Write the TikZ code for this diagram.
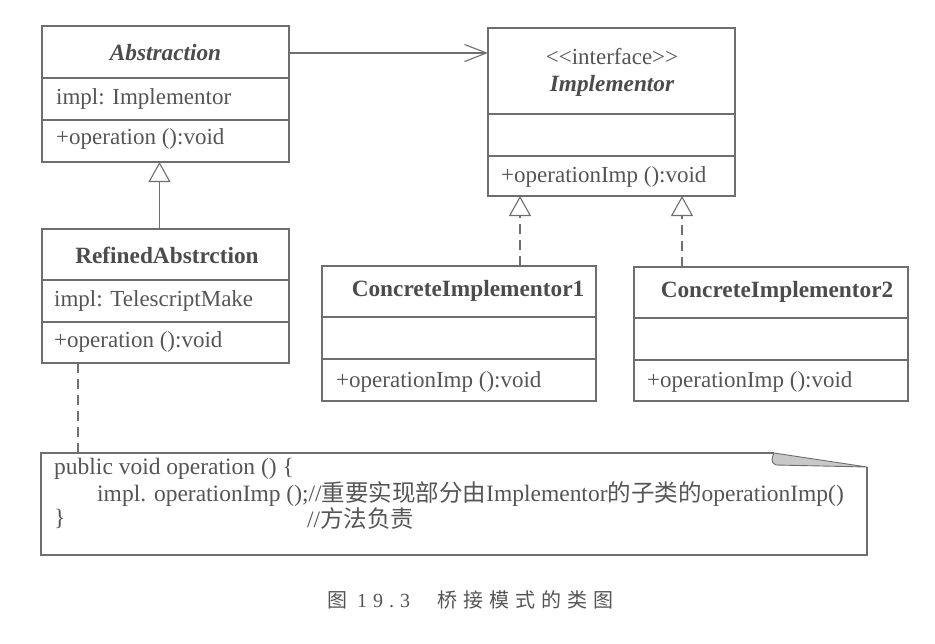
\documentclass[tikz,border=0pt]{standalone}
\usepackage{fontspec}
\setmainfont{Liberation Serif}
\newfontfamily\cjk{Noto Sans CJK SC}
\newfontfamily\capcjk[LetterSpace=30]{Noto Sans CJK SC}
\newfontfamily\capdig[LetterSpace=30]{Liberation Serif}
\usetikzlibrary{arrows.meta}
\definecolor{lc}{HTML}{6E6E6E}
\definecolor{tc}{HTML}{555555}
\definecolor{fc}{HTML}{C8C8C8}
\begin{document}
\begin{tikzpicture}[x=1pt,y=-1pt,
  ln/.style={draw=lc, line width=1.1pt},
  cls/.style={ln, rectangle, inner sep=0pt, outer sep=0pt, anchor=north west},
  txt/.style={text=tc, inner sep=0pt, font=\fontsize{23}{27}\selectfont},
  ntxt/.style={text=tc, inner sep=0pt, font=\fontsize{23.5}{27}\selectfont},
  ttl/.style={text=tc!90!black, inner sep=0pt, font=\fontsize{23.3}{27}\selectfont\bfseries},
  ttli/.style={text=tc!90!black, inner sep=0pt, font=\fontsize{23.3}{27}\selectfont\bfseries\itshape},
  assoc/.style={ln, -{Straight Barb[length=22pt,width=17pt]}},
  inh/.style={ln, -{Triangle[open, length=20pt, width=22pt, fill=white]}},
  real/.style={inh, dash pattern=on 10pt off 6pt},
  notelink/.style={ln, dash pattern=on 10pt off 6pt}]
\useasboundingbox[fill=white] (0,0) rectangle (935,643);

% Abstraction
\node[cls, minimum width=247pt, minimum height=136pt] (abs) at (42,26) {};
\draw[ln] (abs.west |- 0,78) -- (abs.east |- 0,78);
\draw[ln] (abs.west |- 0,120) -- (abs.east |- 0,120);
\node[ttli] (absT) at (165.5,53) {Abstraction};
\node[txt, anchor=west] (absA) at (56,99) {impl: Implementor};
\node[txt, anchor=west] (absM) at (56,139) {+operation ():void};

% Implementor
\node[cls, minimum width=247pt, minimum height=168pt] (imp) at (488,28) {};
\draw[ln] (imp.west |- 0,114) -- (imp.east |- 0,114);
\draw[ln] (imp.west |- 0,156) -- (imp.east |- 0,156);
\node[txt] (impS) at (612,57) {{<}{<}interface{>}{>}};
\node[ttli] (impT) at (612,86) {Implementor};
\node[txt, anchor=west] (impM) at (501,177) {+operationImp ():void};

% RefinedAbstraction
\node[cls, minimum width=247pt, minimum height=134pt] (ref) at (42,229) {};
\draw[ln] (ref.west |- 0,280) -- (ref.east |- 0,280);
\draw[ln] (ref.west |- 0,322) -- (ref.east |- 0,322);
\node[ttl] (refT) at (167,255) {RefinedAbstrction};
\node[txt, anchor=west] (refA) at (54,301) {impl: TelescriptMake};
\node[txt, anchor=west] (refM) at (54,342) {+operation ():void};

% ConcreteImplementor1
\node[cls, minimum width=274pt, minimum height=135pt] (c1) at (322,266) {};
\draw[ln] (c1.west |- 0,317) -- (c1.east |- 0,317);
\draw[ln] (c1.west |- 0,359) -- (c1.east |- 0,359);
\node[ttl] (c1T) at (468,291) {ConcreteImplementor1};
\node[txt, anchor=west] (c1M) at (336,382) {+operationImp ():void};

% ConcreteImplementor2
\node[cls, minimum width=274pt, minimum height=134pt] (c2) at (634,267) {};
\draw[ln] (c2.west |- 0,318) -- (c2.east |- 0,318);
\draw[ln] (c2.west |- 0,360) -- (c2.east |- 0,360);
\node[ttl] (c2T) at (777,292) {ConcreteImplementor2};
\node[txt, anchor=west] (c2M) at (647,382) {+operationImp ():void};

% connectors
\draw[assoc] (abs.east |- absT) -- (imp.west |- absT);
\draw[inh] ([xshift=-6pt]ref.north) -- ([xshift=-6pt]abs.south);
\draw[real] ([xshift=198pt]c1.north west) -- ([xshift=32pt]imp.south west);
\draw[real] ([xshift=48pt]c2.north west) -- ([xshift=194pt]imp.south west);

% note
\node[inner sep=0pt, outer sep=0pt, minimum width=826pt, minimum height=102pt, anchor=north west] (note) at (41,453) {};
\coordinate (f1) at ([xshift=-93pt]note.north east);
\coordinate (f2) at ([yshift=-14pt]note.north east);
\draw[ln] (f1) -- (note.north west) -- (note.south west) -- (note.south east) -- (f2);
\filldraw[ln, fill=fc, line width=0.9pt] (f1) -- (f2) -- ([xshift=2pt,yshift=-12pt]f1)
  .. controls ([xshift=-4pt,yshift=-10pt]f1) and ([xshift=-2pt,yshift=-4pt]f1) .. (f1) -- cycle;
\draw[notelink] ([xshift=36pt]ref.south west) -- ([xshift=36pt]ref.south west |- note.north);

\node[ntxt, anchor=west] (n1) at (54,469) {public void operation () \{};
\node[ntxt, anchor=west] (n2) at (97,494) {impl. operationImp ();//{\cjk 重要实现部分由}Implementor{\cjk 的子类的}operationImp()};
\node[ntxt, anchor=west] (n3a) at (54,519) {\}};
\node[ntxt, anchor=west] (n3b) at (307,519) {//{\cjk 方法负责}};

% caption
\node[txt, anchor=west, font=\fontsize{20}{24}\selectfont] (cap) at (327,600)
  {{\capcjk 图}\hspace{10pt}{\capdig 19.3}\hspace{27pt}{\capcjk 桥接模式的类图}};
\end{tikzpicture}
\end{document}
